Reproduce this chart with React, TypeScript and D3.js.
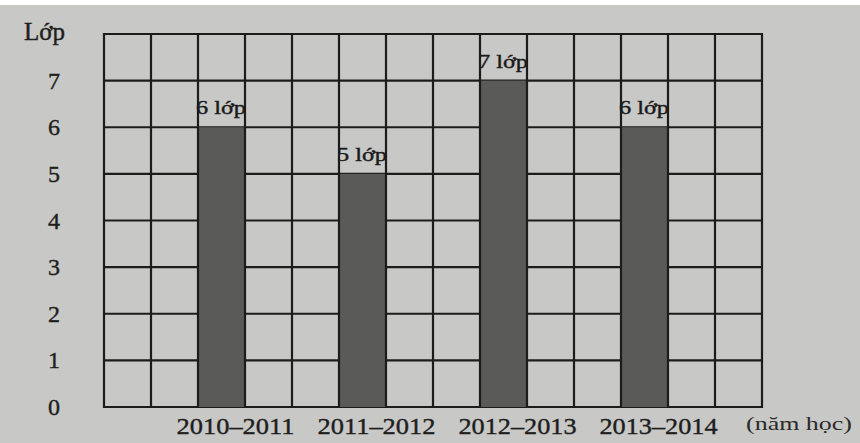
import * as d3 from "d3";
import React, { useEffect, useRef } from "react";

// dữ liệu
const schoolYears = ["2010–2011", "2011–2012", "2012–2013", "2013–2014"];
const classCounts = [6, 5, 7, 6];
const barLabels = ["6 lớp", "5 lớp", "7 lớp", "6 lớp"];
const yTicks = [0, 1, 2, 3, 4, 5, 6, 7];
const yTitle = "Lớp";
const xTitle = "(năm học)";

const W = 860;
const H = 443;

const App: React.FC = () => {
  const svgRef = useRef<SVGSVGElement>(null);

  useEffect(() => {
    const svg = d3.select(svgRef.current);
    svg.selectAll("*").remove();
    const font = "'Liberation Serif', 'DejaVu Serif', serif";

    // grid area
    const left = 104;
    const right = 762;
    const top = 34;
    const bottom = 407;
    const nCols = 14;

    // paper
    svg.append("rect").attr("width", W).attr("height", H).attr("fill", "#ffffff");
    svg.append("rect").attr("y", 5).attr("width", W).attr("height", H - 5).attr("fill", "#c8c8c6");

    const y = d3.scaleLinear().domain([0, 8]).range([bottom, top]);
    const col = d3.scaleLinear().domain([0, nCols]).range([left, right]);
    // mỗi năm học chiếm 3 cột, cột đầu tiên là cột tô
    const x = d3.scaleBand<string>()
      .domain(schoolYears)
      .range([col(2), col(14)])
      .paddingInner(0)
      .paddingOuter(0);
    const barW = col(1) - col(0);

    const g = svg.append("g");

    // đường lưới ngang
    g.selectAll("line.h")
      .data(d3.range(0, 9))
      .enter()
      .append("line")
      .attr("x1", left)
      .attr("x2", right)
      .attr("y1", (d) => y(d))
      .attr("y2", (d) => y(d))
      .attr("stroke", "#1c1c1c")
      .attr("stroke-width", 2.2);

    // cột
    g.selectAll("rect.bar")
      .data(classCounts)
      .enter()
      .append("rect")
      .attr("x", (_, i) => x(schoolYears[i]) as number)
      .attr("y", (d) => y(d))
      .attr("width", barW)
      .attr("height", (d) => bottom - y(d))
      .attr("fill", "#5a5a59");

    // đường lưới dọc
    g.selectAll("line.v")
      .data(d3.range(0, nCols + 1))
      .enter()
      .append("line")
      .attr("x1", (d) => col(d))
      .attr("x2", (d) => col(d))
      .attr("y1", top - 1)
      .attr("y2", bottom + 1)
      .attr("stroke", "#1c1c1c")
      .attr("stroke-width", 2.2);

    // nhãn trên cột
    g.selectAll("text.bl")
      .data(classCounts)
      .enter()
      .append("text")
      .attr("x", (_, i) => (x(schoolYears[i]) as number) - 2)
      .attr("y", (d) => y(d) - 13)
      .attr("font-family", font)
      .attr("font-size", 19)
      .attr("fill", "#1a1a1a")
      .attr("stroke", "#1a1a1a")
      .attr("stroke-width", 0.4)
      .attr("textLength", 50)
      .attr("lengthAdjust", "spacingAndGlyphs")
      .text((_, i) => barLabels[i]);

    // nhãn trục đứng
    g.selectAll("text.yt")
      .data(yTicks)
      .enter()
      .append("text")
      .attr("x", 54)
      .attr("y", (d) => y(d) + 8)
      .attr("text-anchor", "middle")
      .attr("font-family", font)
      .attr("font-size", 24)
      .attr("fill", "#1e1e1e")
      .attr("stroke", "#1e1e1e")
      .attr("stroke-width", 0.4)
      .text((d) => d);

    g.append("text")
      .attr("x", 24)
      .attr("y", 40)
      .attr("font-family", font)
      .attr("font-size", 25)
      .attr("fill", "#1e1e1e")
      .attr("stroke", "#1e1e1e")
      .attr("stroke-width", 0.4)
      .text(yTitle);

    // nhãn năm học
    g.selectAll("text.xt")
      .data(schoolYears)
      .enter()
      .append("text")
      .attr("x", (d) => (x(d) as number) + barW / 2 + 14)
      .attr("y", 434)
      .attr("text-anchor", "middle")
      .attr("font-family", font)
      .attr("font-size", 24)
      .attr("fill", "#1e1e1e")
      .attr("stroke", "#1e1e1e")
      .attr("stroke-width", 0.4)
      .attr("textLength", 118)
      .attr("lengthAdjust", "spacingAndGlyphs")
      .text((d) => d);

    g.append("text")
      .attr("x", 746)
      .attr("y", 430)
      .attr("font-family", font)
      .attr("font-size", 19)
      .attr("fill", "#2a2a2a")
      .attr("textLength", 106)
      .attr("lengthAdjust", "spacingAndGlyphs")
      .text(xTitle);
  }, []);

  return (
    <svg
      ref={svgRef}
      width={W}
      height={H}
      style={{ position: "absolute", left: 0, top: 0, display: "block" }}
    />
  );
};

export default App;
